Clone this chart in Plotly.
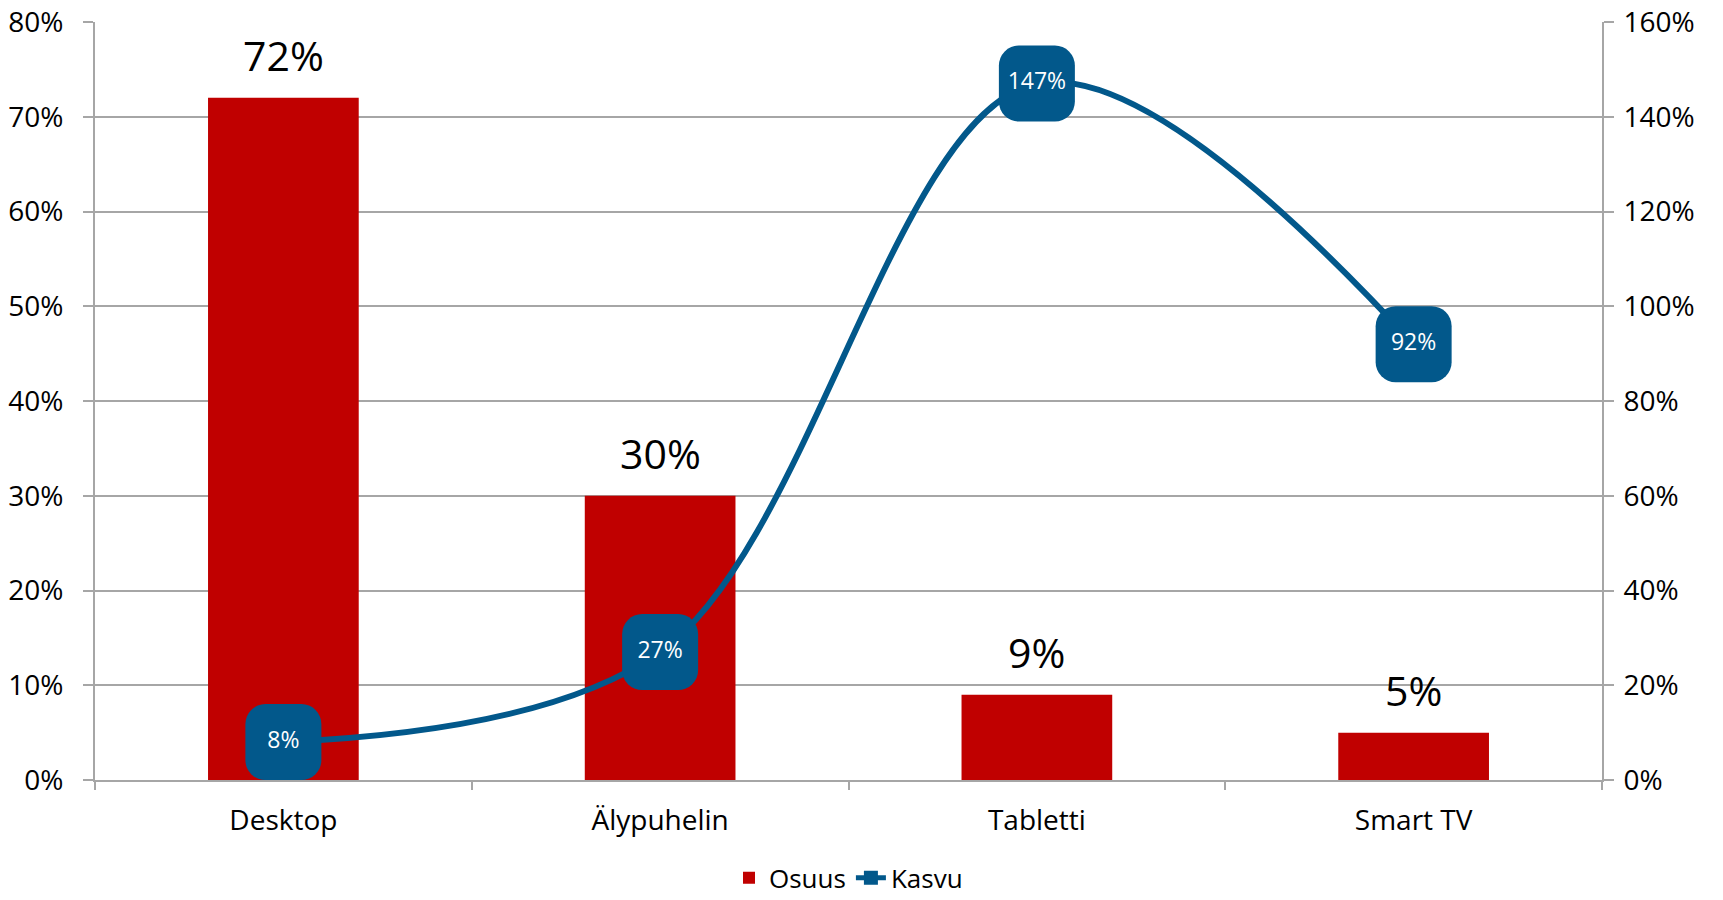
import plotly.graph_objects as go

categories = ["Desktop", "Älypuhelin", "Tabletti", "Smart TV"]
osuus = [0.72, 0.30, 0.09, 0.05]
kasvu = [0.08, 0.27, 1.47, 0.92]
left_ticks = [0, 0.1, 0.2, 0.3, 0.4, 0.5, 0.6, 0.7, 0.8]
right_ticks = [0, 0.2, 0.4, 0.6, 0.8, 1.0, 1.2, 1.4, 1.6]

RED = "#C00000"
BLUE = "#02588B"
GRID = "#A6A6A6"
FONT = "Open Sans, sans-serif"

fig = go.Figure()
fig.add_trace(go.Bar(
    x=categories, y=osuus, name="Osuus",
    marker=dict(color=RED, line=dict(width=0)),
    yaxis="y",
))
fig.add_trace(go.Scatter(
    x=categories, y=kasvu, name="Kasvu",
    mode="lines+markers+text",
    line=dict(color=BLUE, width=6, shape="spline", smoothing=1.0),
    # square drawn with a thick, round-joined outline -> rounded square
    marker=dict(symbol="square", size=36, color=BLUE, line=dict(width=40, color=BLUE)),
    text=[f"{v*100:.0f}%" for v in kasvu],
    textposition="middle center",
    textfont=dict(size=23, color="white", family=FONT),
    yaxis="y2", cliponaxis=False,
))

for c, v in zip(categories, osuus):
    fig.add_annotation(
        x=c, y=v, xref="x", yref="y", text=f"{v*100:.0f}%",
        showarrow=False, yanchor="middle", yshift=43,
        font=dict(size=41, color="black", family=FONT),
    )

fig.update_layout(
    width=1723, height=900,
    margin=dict(l=95, r=121, t=22, b=120, autoexpand=False),
    paper_bgcolor="white", plot_bgcolor="white",
    font=dict(family=FONT, size=28, color="black"),
    bargap=0.6,
    showlegend=True,
    legend=dict(orientation="h", x=0.5, xanchor="center", y=-0.098, yanchor="top",
                font=dict(size=26), itemsizing="constant", tracegroupgap=0),
    xaxis=dict(
        showline=True, linecolor=GRID, linewidth=2,
        ticks="outside", tickson="boundaries", ticklen=8, tickcolor=GRID, tickwidth=2,
        showgrid=False, tickfont=dict(size=28), ticklabelstandoff=14,
    ),
    yaxis=dict(
        range=[0, 0.8], tickvals=left_ticks, tickformat=".0%",
        showline=True, linecolor=GRID, linewidth=2,
        ticks="outside", ticklen=10, tickcolor=GRID, tickwidth=2,
        showgrid=True, gridcolor=GRID, gridwidth=2, zeroline=False,
        tickfont=dict(size=28), ticklabelstandoff=14,
    ),
    yaxis2=dict(
        range=[0, 1.6], tickvals=right_ticks, tickformat=".0%",
        overlaying="y", side="right",
        showline=True, linecolor=GRID, linewidth=2,
        ticks="outside", ticklen=10, tickcolor=GRID, tickwidth=2,
        showgrid=False, zeroline=False,
        tickfont=dict(size=28), ticklabelstandoff=4,
    ),
)

post = (
    "var s=document.createElement('style');"
    "s.textContent='body{margin:0;overflow:hidden} .scatterlayer .point{stroke-linejoin:round}';"
    "document.head.appendChild(s);"
)
fig.write_html("out.html", post_script=post, config={"displayModeBar": False})
